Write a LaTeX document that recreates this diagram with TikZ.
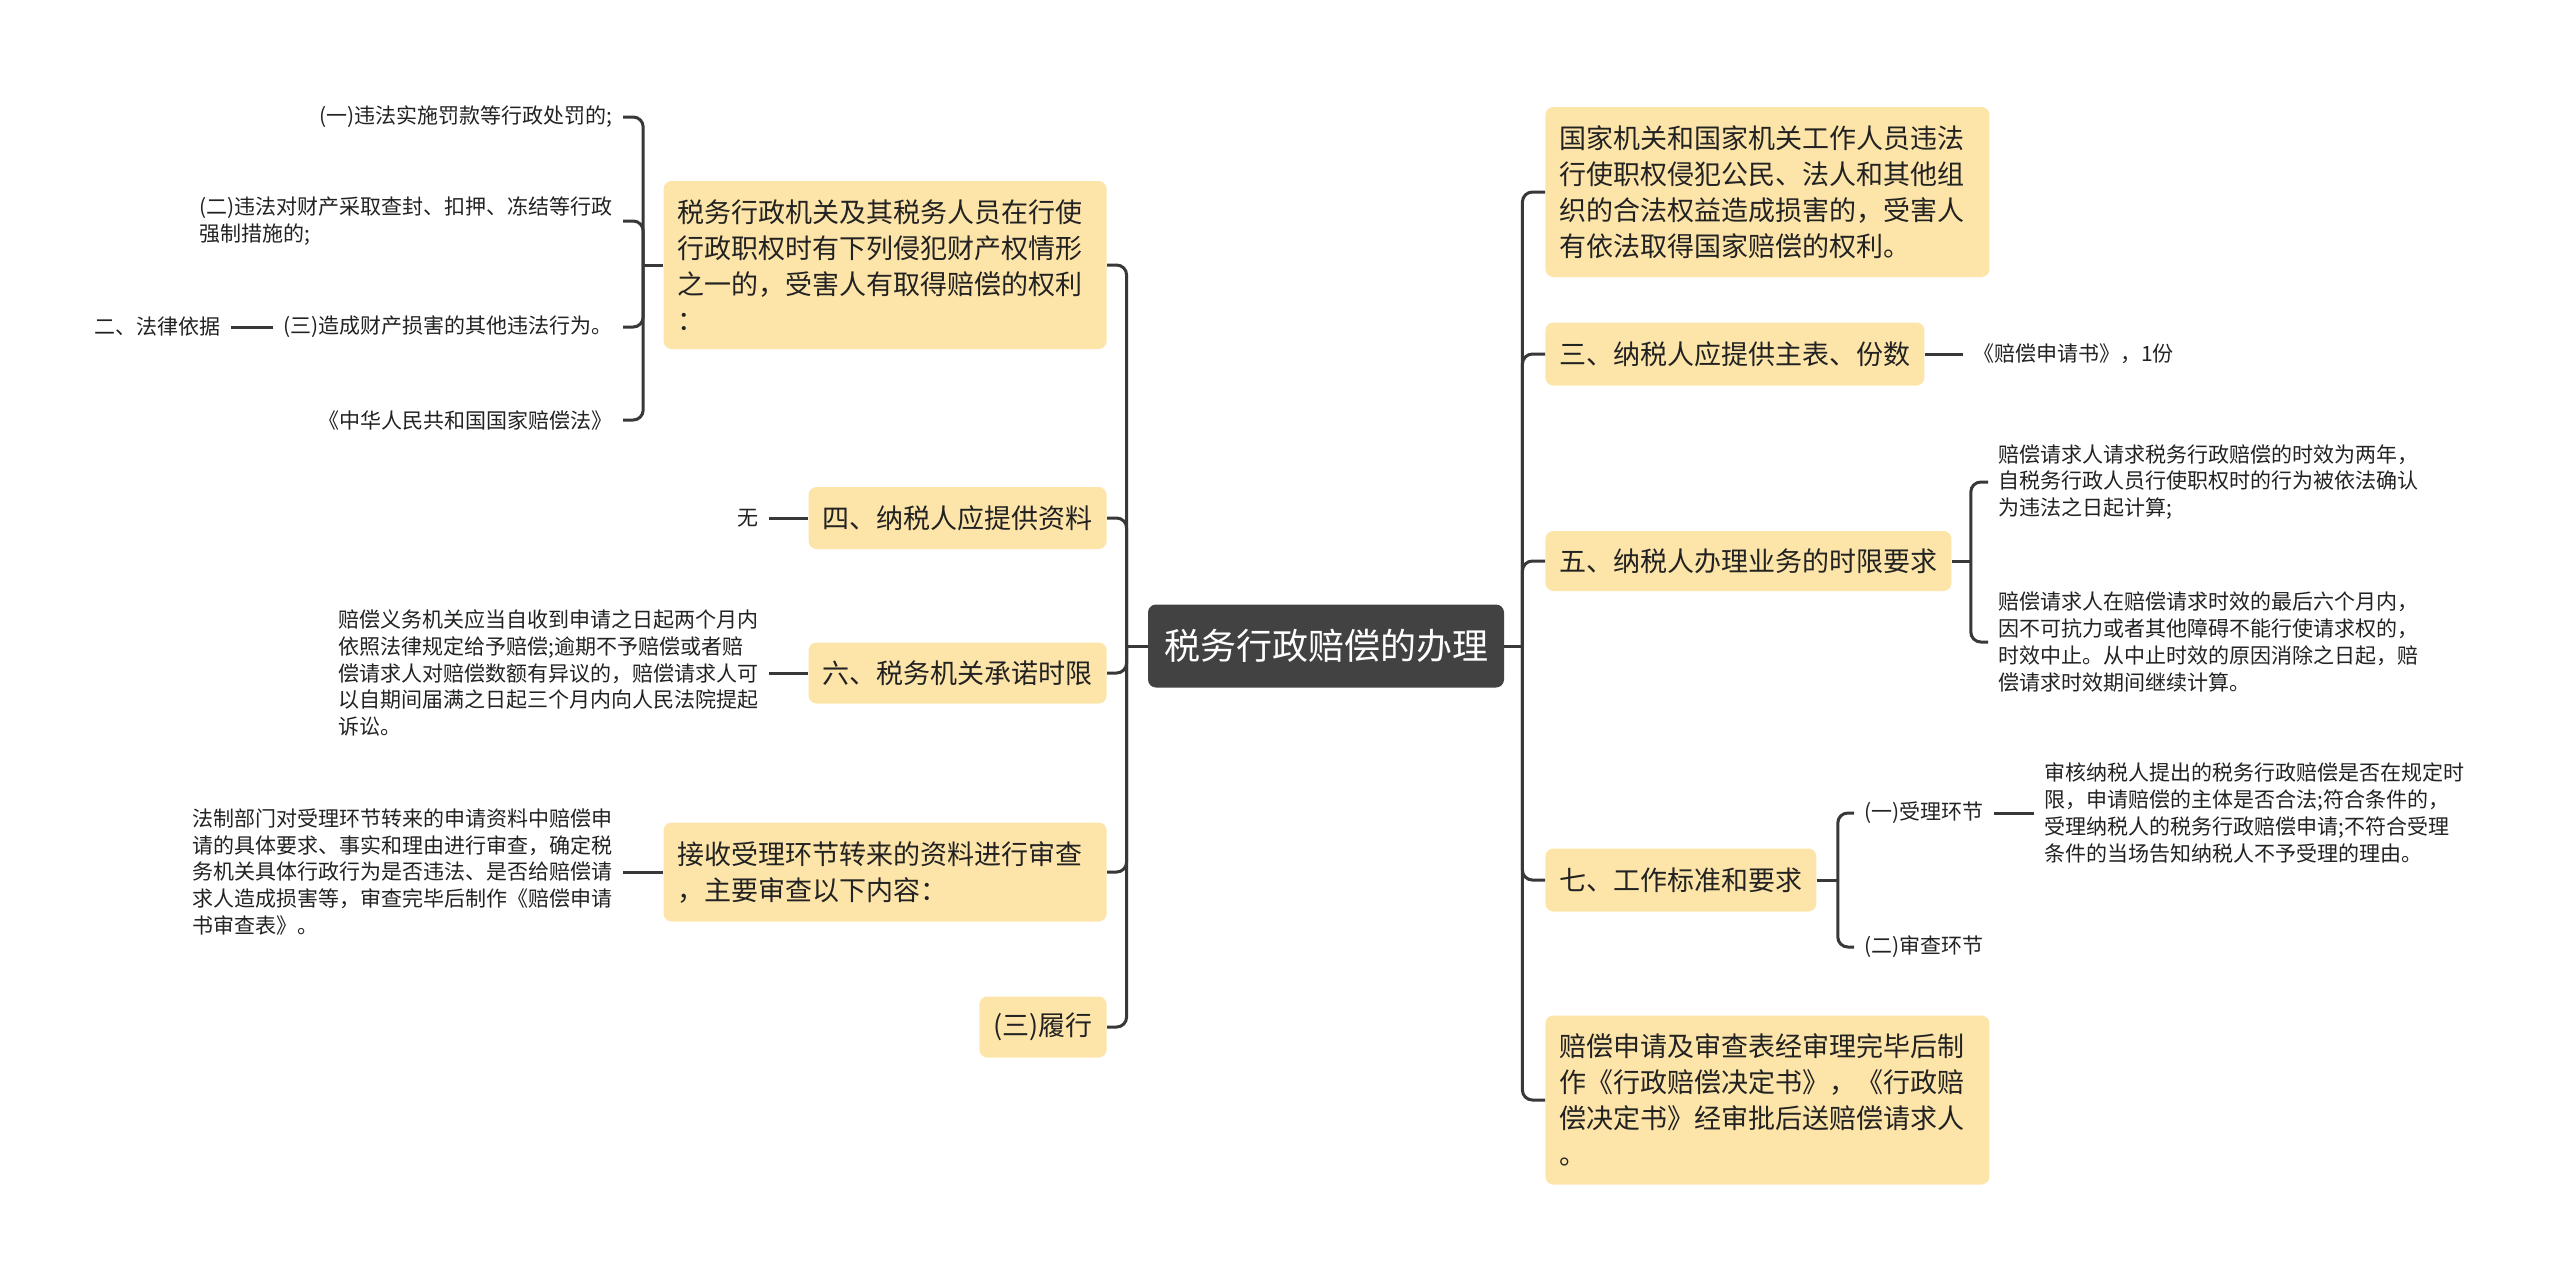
\documentclass[tikz,border=0pt]{standalone}
\usepackage{fontspec}
\setmainfont{Noto Sans CJK SC}
\usetikzlibrary{positioning}

\definecolor{topicyellow}{HTML}{FDE5AA}
\definecolor{rootgray}{HTML}{424242}
\definecolor{linegray}{HTML}{383838}
\definecolor{inkgray}{HTML}{222222}

\begin{document}
\begin{tikzpicture}[
    x=0.5pt, y=-0.5pt,
    % Styles
    rootbox/.style={fill=rootgray, text=white, rounded corners=4pt, font=\fontsize{18}{22}\selectfont, inner xsep=8pt, minimum height=41.5pt},
    topicbox/.style={fill=topicyellow, text=inkgray, rounded corners=4pt, align=left, font=\fontsize{13.5}{18}\selectfont, inner xsep=7pt, inner ysep=4pt},
    leaftext/.style={text=inkgray, align=left, font=\fontsize{10.5}{13.4}\selectfont, inner xsep=5pt, inner ysep=2pt},
    branchline/.style={draw=linegray, line width=1.5pt, rounded corners=5pt}
    ]

    % Canvas
    \fill[white] (0,0) rectangle (2560,1276);

    % 1. Central topic
    \node (root) [rootbox] at (1326,646) {税务行政赔偿的办理};

    % 2. Right branches
    \node (r1) [topicbox, anchor=west, text width=208pt, minimum height=85pt] at (1545,192) {国家机关和国家机关工作人员违法\\行使职权侵犯公民、法人和其他组\\织的合法权益造成损害的，受害人\\有依法取得国家赔偿的权利。};
    \node (r2) [topicbox, anchor=west, minimum height=31.5pt] at (1545,354) {三、纳税人应提供主表、份数};
    \node (r3) [topicbox, anchor=west, minimum height=30pt] at (1545,561) {五、纳税人办理业务的时限要求};
    \node (r4) [topicbox, anchor=west, minimum height=31.5pt] at (1545,880) {七、工作标准和要求};
    \node (r5) [topicbox, anchor=west, text width=208pt, minimum height=84.5pt] at (1545,1100) {赔偿申请及审查表经审理完毕后制\\作《行政赔偿决定书》，《行政赔\\偿决定书》经审批后送赔偿请求人\\。};

    % Right leaves
    \node (r2a) [leaftext, right=19pt of r2] {《赔偿申请书》，1份};
    \node (r3a) [leaftext, anchor=west] at (1988,482) {赔偿请求人请求税务行政赔偿的时效为两年，\\自税务行政人员行使职权时的行为被依法确认\\为违法之日起计算;};
    \node (r3b) [leaftext, anchor=west] at (1988,642) {赔偿请求人在赔偿请求时效的最后六个月内，\\因不可抗力或者其他障碍不能行使请求权的，\\时效中止。从中止时效的原因消除之日起，赔\\偿请求时效期间继续计算。};
    \node (r4a) [leaftext, anchor=west] at (1854,813) {(一)受理环节};
    \node (r4b) [leaftext, anchor=west] at (1854,947) {(二)审查环节};
    \node (r4a1) [leaftext, right=20pt of r4a] {审核纳税人提出的税务行政赔偿是否在规定时\\限，申请赔偿的主体是否合法;符合条件的，\\受理纳税人的税务行政赔偿申请;不符合受理\\条件的当场告知纳税人不予受理的理由。};

    % 3. Left branches
    \node (l1) [topicbox, anchor=east, text width=207.5pt, minimum height=84pt] at (1107,265) {税务行政机关及其税务人员在行使\\行政职权时有下列侵犯财产权情形\\之一的，受害人有取得赔偿的权利\\：};
    \node (l2) [topicbox, anchor=east, minimum height=31pt] at (1107,518) {四、纳税人应提供资料};
    \node (l3) [topicbox, anchor=east, minimum height=30.5pt] at (1107,673) {六、税务机关承诺时限};
    \node (l4) [topicbox, anchor=east, text width=207.5pt, minimum height=49.5pt] at (1107,872) {接收受理环节转来的资料进行审查\\，主要审查以下内容：};
    \node (l5) [topicbox, anchor=east, minimum height=30.5pt] at (1107,1027) {(三)履行};

    % Left leaves
    \node (l1a) [leaftext, anchor=east] at (623,117) {(一)违法实施罚款等行政处罚的;};
    \node (l1b) [leaftext, anchor=east] at (623,221) {(二)违法对财产采取查封、扣押、冻结等行政\\强制措施的;};
    \node (l1c) [leaftext, anchor=east] at (623,327) {(三)造成财产损害的其他违法行为。};
    \node (l1d) [leaftext, anchor=east] at (623,420) {《中华人民共和国国家赔偿法》};
    \node (l1c1) [leaftext, left=21pt of l1c] {二、法律依据};
    \node (l2a) [leaftext, left=19.5pt of l2] {无};
    \node (l3a) [leaftext, left=19.5pt of l3] {赔偿义务机关应当自收到申请之日起两个月内\\依照法律规定给予赔偿;逾期不予赔偿或者赔\\偿请求人对赔偿数额有异议的，赔偿请求人可\\以自期间届满之日起三个月内向人民法院提起\\诉讼。};
    \node (l4a) [leaftext, left=20pt of l4] {法制部门对受理环节转来的申请资料中赔偿申\\请的具体要求、事实和理由进行审查，确定税\\务机关具体行政行为是否违法、是否给赔偿请\\求人造成损害等，审查完毕后制作《赔偿申请\\书审查表》。};

    % Junction points
    \coordinate [right=9pt of root] (rj);
    \coordinate [left=10.5pt of root] (lj);
    \coordinate [right=9.5pt of r3] (r3j);
    \coordinate [right=10.5pt of r4] (r4j);
    \coordinate [left=10pt of l1] (l1j);

    % Connections
    \draw[branchline] (root.east) -- (rj);
    \draw[branchline] (root.west) -- (lj);
    \foreach \nd in {r1,r2,r3,r4,r5} \draw[branchline] (rj) |- (\nd.west);
    \foreach \nd in {l1,l2,l3,l4,l5} \draw[branchline] (lj) |- (\nd.east);

    \draw[branchline] (r2.east) -- (r2a.west);
    \draw[branchline] (r3.east) -- (r3j);
    \foreach \nd in {r3a,r3b} \draw[branchline] (r3j) |- (\nd.west);
    \draw[branchline] (r4.east) -- (r4j);
    \foreach \nd in {r4a,r4b} \draw[branchline] (r4j) |- (\nd.west);
    \draw[branchline] (r4a.east) -- (r4a1.west);

    \draw[branchline] (l1.west) -- (l1j);
    \foreach \nd in {l1a,l1b,l1c,l1d} \draw[branchline] (l1j) |- (\nd.east);
    \draw[branchline] (l1c.west) -- (l1c1.east);
    \draw[branchline] (l2.west) -- (l2a.east);
    \draw[branchline] (l3.west) -- (l3a.east);
    \draw[branchline] (l4.west) -- (l4a.east);
\end{tikzpicture}
\end{document}
